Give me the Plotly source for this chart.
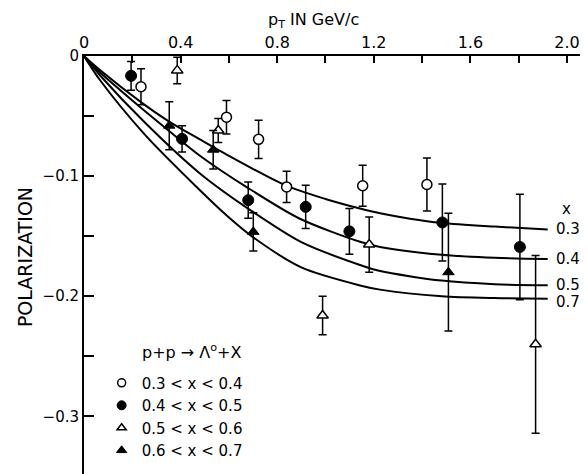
import plotly.graph_objects as go

# ---- data ----
# open circles: 0.3 < x < 0.4
oc_pt = [0.236, 0.590, 0.723, 0.839, 1.154, 1.420]
oc_pol = [-0.0256, -0.051, -0.0694, -0.109, -0.108, -0.107]
oc_err = [0.015, 0.014, 0.016, 0.013, 0.017, 0.022]

# filled circles: 0.4 < x < 0.5
fc_pt = [0.195, 0.406, 0.680, 0.918, 1.099, 1.484, 1.805]
fc_pol = [-0.0165, -0.069, -0.120, -0.1256, -0.146, -0.1386, -0.159]
fc_err = [0.012, 0.011, 0.015, 0.018, 0.019, 0.032, 0.044]

# open triangles: 0.5 < x < 0.6
ot_pt = [0.386, 0.556, 0.988, 1.181, 1.870]
ot_pol = [-0.012, -0.062, -0.216, -0.157, -0.240]
ot_err = [0.011, 0.010, 0.016, 0.023, 0.074]

# filled triangles: 0.6 < x < 0.7
ft_pt = [0.353, 0.535, 0.701, 1.509]
ft_pol = [-0.058, -0.078, -0.1464, -0.180]
ft_err = [0.020, 0.016, 0.016, 0.049]

# model curves (labelled by x)
c03_pt = [0, 0.066, 0.24, 0.356, 0.48, 0.563, 0.832, 1.0, 1.143, 1.226, 1.35, 1.481, 1.70, 1.92]
c03_pol = [0, -0.0117, -0.039, -0.055, -0.0695, -0.079, -0.1075, -0.119, -0.127, -0.131, -0.1355, -0.139, -0.142, -0.1444]
c04_pt = [0, 0.066, 0.20, 0.35, 0.48, 0.68, 0.894, 1.143, 1.226, 1.481, 1.70, 1.92]
c04_pol = [0, -0.0135, -0.037, -0.062, -0.083, -0.110, -0.1355, -0.1547, -0.159, -0.1655, -0.168, -0.169]
c05_pt = [0, 0.066, 0.25, 0.48, 0.701, 0.90, 1.143, 1.226, 1.481, 1.70, 1.92]
c05_pol = [0, -0.016, -0.055, -0.0978, -0.130, -0.155, -0.174, -0.179, -0.187, -0.190, -0.1908]
c07_pt = [0, 0.066, 0.25, 0.48, 0.598, 0.701, 0.90, 1.143, 1.226, 1.481, 1.70, 1.92]
c07_pol = [0, -0.020, -0.065, -0.1117, -0.134, -0.151, -0.176, -0.191, -0.1945, -0.200, -0.2015, -0.202]
curve_labels = ["0.3", "0.4", "0.5", "0.7"]

series_names = ["0.3 < x < 0.4", "0.4 < x < 0.5", "0.5 < x < 0.6", "0.6 < x < 0.7"]
legend_title = "p+p \u2192 \u039b<sup>o</sup>+X"

x_tickvals = [0, 0.2, 0.4, 0.6, 0.8, 1.0, 1.2, 1.4, 1.6, 1.8, 2.0]
x_ticktext = ["0", "", "0.4", "", "0.8", "", "1.2", "", "1.6", "", "2.0"]
y_tickvals = [0, -0.05, -0.1, -0.15, -0.2, -0.25, -0.3]
y_ticktext = ["0", "", "\u22120.1", "", "\u22120.2", "", "\u22120.3"]

FONT = "DejaVu Sans"
fig = go.Figure()

curves = [(c03_pt, c03_pol), (c04_pt, c04_pol), (c05_pt, c05_pol), (c07_pt, c07_pol)]
for cx, cy in curves:
    fig.add_trace(go.Scatter(x=cx, y=cy, mode="lines", showlegend=False,
                             line=dict(color="black", width=2, shape="spline", smoothing=0.8),
                             hoverinfo="skip"))

def err(e):
    return dict(type="data", array=e, visible=True, color="black", thickness=1.5, width=4)

styles = [
    dict(symbol="circle", color="white", lw=1.5, size=10, lsize=8),
    dict(symbol="circle", color="black", lw=1, size=11, lsize=9),
    dict(symbol="triangle-up", color="white", lw=1.5, size=10, lsize=8),
    dict(symbol="triangle-up", color="black", lw=1, size=10, lsize=9),
]
series = [(oc_pt, oc_pol, oc_err), (fc_pt, fc_pol, fc_err), (ot_pt, ot_pol, ot_err), (ft_pt, ft_pol, ft_err)]
for (sx, sy, se), st, nm in zip(series, styles, series_names):
    fig.add_trace(go.Scatter(x=sx, y=sy, mode="markers", name=nm, showlegend=False, error_y=err(se),
                             marker=dict(symbol=st["symbol"], size=st["size"], color=st["color"],
                                         line=dict(color="black", width=st["lw"]))))
# legend-only entries (smaller symbols, as in the reference key)
for st, nm in zip(styles, series_names):
    fig.add_trace(go.Scatter(x=[None], y=[None], mode="markers", name=nm, showlegend=True,
                             marker=dict(symbol=st["symbol"], size=st["lsize"], color=st["color"],
                                         line=dict(color="black", width=st["lw"]))))

label_shift = [0, 0, 0, -0.003]
annotations = []
for (cx, cy), lab, dy in zip(curves, curve_labels, label_shift):
    annotations.append(dict(x=1.945, y=cy[-1] + dy, xref="x", yref="y", text=lab, showarrow=False,
                            xanchor="left", yanchor="middle", font=dict(family=FONT, size=15, color="black")))
annotations.append(dict(x=2.0, y=-0.127, xref="x", yref="y", text="x", showarrow=False,
                        xanchor="center", yanchor="middle", font=dict(family=FONT, size=15, color="black")))
annotations.append(dict(x=0.455, y=1.086, xref="paper", yref="paper", text="p<sub>T</sub> IN GeV/c",
                        showarrow=False, xanchor="center", yanchor="middle",
                        font=dict(family=FONT, size=16, color="black")))
annotations.append(dict(x=-0.117, y=0.519, xref="paper", yref="paper", text="POLARIZATION", textangle=-90,
                        showarrow=False, xanchor="center", yanchor="middle",
                        font=dict(family=FONT, size=19, color="black")))
annotations.append(dict(x=0.111, y=0.293, xref="paper", yref="paper", text=legend_title,
                        showarrow=False, xanchor="left", yanchor="middle",
                        font=dict(family=FONT, size=16, color="black")))

# page body has an 8px margin: size the figure so the plot area lands where the reference has it
fig.update_layout(
    width=580, height=466,
    margin=dict(l=76, r=0, t=48, b=0),
    paper_bgcolor="white", plot_bgcolor="white",
    font=dict(family=FONT, size=15, color="black"),
    annotations=annotations,
    showlegend=True,
    legend=dict(x=0.035, y=0.257, xanchor="left", yanchor="top",
                bgcolor="rgba(0,0,0,0)", borderwidth=0,
                font=dict(family=FONT, size=15, color="black"),
                tracegroupgap=0),
    xaxis=dict(side="top", range=[0, 2.087], tickvals=x_tickvals, ticktext=x_ticktext,
               ticks="inside", ticklen=7, tickwidth=2, tickcolor="black",
               showline=True, linewidth=2, linecolor="black", showgrid=False, zeroline=False,
               tickfont=dict(family=FONT, size=16, color="black")),
    yaxis=dict(range=[-0.348, 0], tickvals=y_tickvals, ticktext=y_ticktext,
               ticks="inside", ticklen=10, tickwidth=2, tickcolor="black",
               showline=True, linewidth=2, linecolor="black", showgrid=False, zeroline=False,
               tickfont=dict(family=FONT, size=15, color="black")),
)

fig.write_html("out.html")
